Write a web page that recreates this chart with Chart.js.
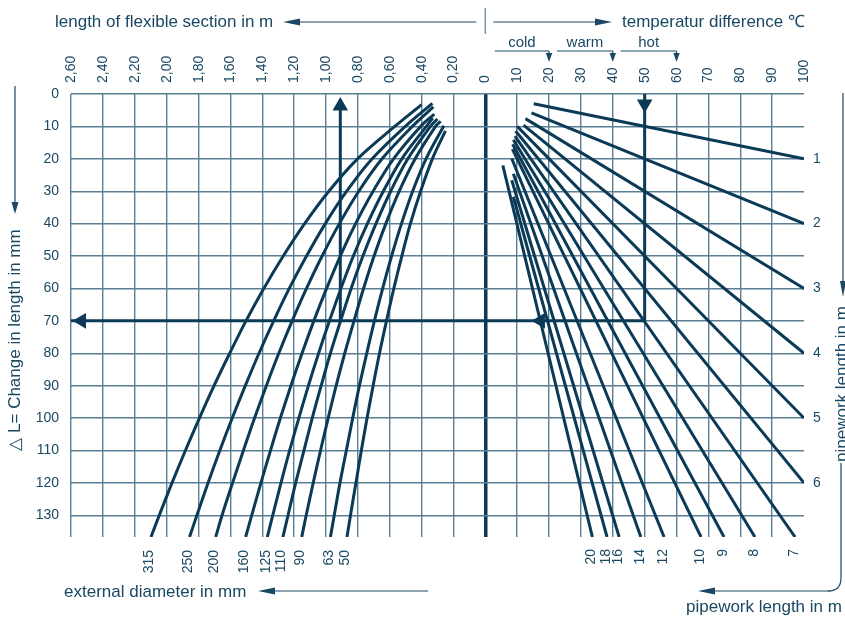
<!DOCTYPE html>
<html>
<head>
<meta charset="utf-8">
<script src="https://cdn.jsdelivr.net/npm/chart.js@4.4.1/dist/chart.umd.min.js"></script>
<style>
  html, body { margin: 0; padding: 0; background: #ffffff; }
  canvas { display: block; }
</style>
</head>
<body>
<canvas id="nomogram" width="845" height="619"></canvas>
<script>
// ---- tick labels ----
const flexTickLabels = ["2,60", "2,40", "2,20", "2,00", "1,80", "1,60", "1,40", "1,20", "1,00", "0,80", "0,60", "0,40", "0,20", "0"];
const tempTickLabels = ["10", "20", "30", "40", "50", "60", "70", "80", "90", "100"];
const dLTicks = [0, 10, 20, 30, 40, 50, 60, 70, 80, 90, 100, 110, 120, 130];

// 0.20 m of flexible section takes one grid step (= 10 K)
const M_TO_AXIS = 50;

// ---- left part: flexible section length (m) per external diameter ----
const diameters = [315, 250, 200, 160, 125, 110, 90, 63, 50];
const dLRows = [10, 20, 30, 40, 50, 60, 70, 80, 90, 100, 110, 120, 130, 136.7];
const curveTopDL = [3.3, 2.9, 4.0, 6.2, 7.4, 7.7, 8.4, 9.8, 11.4];
const curveTopLen = [0.40, 0.332, 0.326, 0.32, 0.33, 0.30, 0.28, 0.26, 0.25];
const len315 = [0.568, 0.802, 0.982, 1.134, 1.268, 1.390, 1.502, 1.604, 1.702, 1.794, 1.882, 1.966, 2.046, 2.098];
const len250 = [0.502, 0.710, 0.870, 1.004, 1.122, 1.230, 1.328, 1.420, 1.506, 1.588, 1.666, 1.740, 1.810, 1.856];
const len200 = [0.458, 0.648, 0.794, 0.916, 1.024, 1.122, 1.212, 1.296, 1.374, 1.448, 1.518, 1.586, 1.652, 1.692];
const len160 = [0.406, 0.576, 0.704, 0.814, 0.910, 0.996, 1.076, 1.150, 1.220, 1.286, 1.348, 1.408, 1.466, 1.504];
const len125 = [0.370, 0.524, 0.640, 0.740, 0.828, 0.906, 0.978, 1.046, 1.110, 1.170, 1.228, 1.282, 1.334, 1.368];
const len110 = [0.344, 0.486, 0.594, 0.686, 0.768, 0.842, 0.908, 0.972, 1.030, 1.086, 1.138, 1.190, 1.238, 1.270];
const len90 = [0.312, 0.440, 0.540, 0.624, 0.698, 0.764, 0.824, 0.882, 0.936, 0.986, 1.034, 1.080, 1.124, 1.152];
const len63 = [null, 0.372, 0.456, 0.526, 0.588, 0.644, 0.696, 0.744, 0.790, 0.832, 0.872, 0.912, 0.948, 0.972];
const len50 = [null, 0.332, 0.406, 0.470, 0.524, 0.574, 0.620, 0.664, 0.704, 0.742, 0.778, 0.812, 0.846, 0.868];
const flexCurves = [len315, len250, len200, len160, len125, len110, len90, len63, len50];

// ---- right part: pipework length lines (temperature difference, change in length) ----
const pipeLengths = [1, 2, 3, 4, 5, 6, 7, 8, 9, 10, 12, 14, 16, 18, 20];
const pipeStartT = [15.2, 14.5, 12.6, 12.0, 10.0, 9.5, 9.3, 8.8, 8.6, 8.5, 8.3, 8.8, 8.3, 8.8, 5.5];
const pipeStartDL = [3.0, 5.8, 7.6, 9.6, 10.0, 11.4, 13.0, 14.1, 15.5, 17.0, 19.9, 24.6, 26.6, 31.7, 22.0];
const pipeEndT = [100, 100, 100, 100, 100, 100, 97.2, 84.6, 74.9, 67.7, 56.1, 48.8, 42.0, 38.2, 33.6];
const pipeEndDL = [20, 40, 60, 80, 100, 120, 136.7, 136.7, 136.7, 136.7, 136.7, 136.7, 136.7, 136.7, 136.7];

// ---- reading example ----
const exampleT = 50;
const exampleDL = 70;
const exampleLen = 0.91;

// ---- temperature classes ----
const zoneNames = ["cold", "warm", "hot"];
const zoneFrom = [3, 22.5, 42.5];
const zoneTo = [20, 40, 60];

const LINE = "#0b3a57";
const TEXT = "#1a4863";
const GRID = "#5a7e94";
const FONT = "'Liberation Sans', Arial, Helvetica, sans-serif";

const xTickLabels = flexTickLabels.concat(tempTickLabels);
const xTickValue = (lbl) => lbl.includes(",") ? -M_TO_AXIS * parseFloat(lbl.replace(",", ".")) : Number(lbl);

const datasets = [];

flexCurves.forEach((lens, i) => {
  const pts = [{ x: -M_TO_AXIS * curveTopLen[i], y: curveTopDL[i] }];
  lens.forEach((l, j) => {
    if (l !== null) pts.push({ x: -M_TO_AXIS * l, y: dLRows[j] });
  });
  datasets.push({
    label: "D " + diameters[i],
    data: pts,
    showLine: true,
    borderColor: LINE,
    borderWidth: 3,
    pointRadius: 0,
    tension: 0.35,
  });
});

pipeLengths.forEach((p, i) => {
  datasets.push({
    label: "L " + p,
    data: [
      { x: pipeStartT[i], y: pipeStartDL[i] },
      { x: pipeEndT[i], y: pipeEndDL[i] },
    ],
    showLine: true,
    borderColor: LINE,
    borderWidth: 3,
    pointRadius: 0,
  });
});

// example path: down from the temperature, left across, up to the flexible length
const exampleLines = [
  [{ x: exampleT, y: 0 }, { x: exampleT, y: exampleDL }],
  [{ x: exampleT, y: exampleDL }, { x: -130, y: exampleDL }],
  [{ x: -M_TO_AXIS * exampleLen, y: exampleDL }, { x: -M_TO_AXIS * exampleLen, y: 4 }],
];
exampleLines.forEach((seg) => {
  datasets.push({
    data: seg,
    showLine: true,
    borderColor: LINE,
    borderWidth: 3,
    pointRadius: 0,
  });
});

datasets.push({
  label: "arrows",
  data: [
    { x: -M_TO_AXIS * exampleLen, y: 3.7 },
    { x: exampleT, y: 3.1 },
    { x: -126.7, y: exampleDL },
    { x: 17.3, y: exampleDL },
  ],
  pointStyle: "triangle",
  pointRadius: 9,
  pointRotation: [0, 180, 270, 270],
  pointBackgroundColor: LINE,
  pointBorderWidth: 0,
  showLine: false,
});

function arrow(ctx, x1, y1, x2, y2, len, half) {
  const a = Math.atan2(y2 - y1, x2 - x1);
  const bx = x2 - Math.cos(a) * len;
  const by = y2 - Math.sin(a) * len;
  ctx.beginPath();
  ctx.moveTo(x1, y1);
  ctx.lineTo(bx, by);
  ctx.stroke();
  ctx.beginPath();
  ctx.moveTo(x2, y2);
  ctx.lineTo(bx + Math.sin(a) * half, by - Math.cos(a) * half);
  ctx.lineTo(bx - Math.sin(a) * half, by + Math.cos(a) * half);
  ctx.closePath();
  ctx.fill();
}

function rotatedText(ctx, txt, x, y, align, baseline) {
  ctx.save();
  ctx.translate(x, y);
  ctx.rotate(-Math.PI / 2);
  ctx.textAlign = align;
  ctx.textBaseline = baseline;
  ctx.fillText(txt, 0, 0);
  ctx.restore();
}

const decor = {
  id: "decor",
  afterDraw(chart) {
    const { ctx } = chart;
    const xs = chart.scales.x;
    const ys = chart.scales.y;
    const x0 = xs.getPixelForValue(0);
    ctx.save();
    ctx.fillStyle = TEXT;
    ctx.strokeStyle = TEXT;
    ctx.lineWidth = 1.2;

    // header
    ctx.font = "17px " + FONT;
    ctx.textAlign = "left";
    ctx.textBaseline = "alphabetic";
    ctx.fillText("length of flexible section in m", 55, 27);
    ctx.fillText("temperatur difference \u2103", 622, 27);
    arrow(ctx, x0 - 9, 22, 283, 22, 17, 3.5);
    arrow(ctx, x0 + 8, 22, 612, 22, 17, 3.5);
    ctx.save();
    ctx.strokeStyle = "#7a98aa";
    ctx.lineWidth = 1.5;
    ctx.beginPath();
    ctx.moveTo(x0, 8);
    ctx.lineTo(x0, 34);
    ctx.stroke();
    ctx.restore();

    // temperature classes
    ctx.font = "15px " + FONT;
    ctx.textAlign = "center";
    zoneNames.forEach((name, i) => {
      const a = xs.getPixelForValue(zoneFrom[i]);
      const b = xs.getPixelForValue(zoneTo[i]);
      ctx.fillText(name, (a + b) / 2, 47);
      ctx.beginPath();
      ctx.moveTo(a, 51);
      ctx.lineTo(b, 51);
      ctx.stroke();
      arrow(ctx, b, 51, b, 62, 9, 3.2);
    });

    // left axis title
    ctx.font = "17px " + FONT;
    rotatedText(ctx, "\u25B3 L= Change in length in mm", 20, 340, "center", "alphabetic");
    arrow(ctx, 15, 86, 15, 214, 12, 3.5);

    // right title
    rotatedText(ctx, "pipework length in m", 847, 384, "center", "alphabetic");
    arrow(ctx, 843, 93, 843, 297, 16, 3);
    ctx.beginPath();
    ctx.moveTo(841, 463);
    ctx.lineTo(841, 578);
    ctx.quadraticCurveTo(841, 591, 828, 591);
    ctx.stroke();
    arrow(ctx, 830, 591, 698, 591, 17, 3.5);
    ctx.textAlign = "left";
    ctx.fillText("pipework length in m", 686, 612);

    // bottom left title
    ctx.fillText("external diameter in mm", 64, 597);
    arrow(ctx, 428, 591, 258, 591, 17, 3.5);

    // curve labels
    ctx.font = "14px " + FONT;
    diameters.forEach((d, i) => {
      const lens = flexCurves[i];
      const px = xs.getPixelForValue(-M_TO_AXIS * lens[lens.length - 1]) - 1.5;
      rotatedText(ctx, String(d), px, 550, "right", "middle");
    });
    pipeLengths.forEach((p, i) => {
      if (pipeEndT[i] >= 100) {
        ctx.textAlign = "left";
        ctx.textBaseline = "middle";
        ctx.fillText(String(p), xs.right + 9, ys.getPixelForValue(pipeEndDL[i]));
      } else {
        rotatedText(ctx, String(p), xs.getPixelForValue(pipeEndT[i]) - 1, 549, "right", "middle");
      }
    });
    ctx.restore();
  },
};

new Chart(document.getElementById("nomogram"), {
  type: "scatter",
  data: { datasets },
  options: {
    responsive: false,
    animation: false,
    events: [],
    layout: { padding: { left: 0, right: 41, top: 0, bottom: 82 } },
    plugins: {
      legend: { display: false },
      tooltip: { enabled: false },
    },
    scales: {
      x: {
        type: "linear",
        position: "top",
        min: -130,
        max: 100,
        afterBuildTicks: (s) => {
          s.ticks = xTickLabels.map((l) => ({ value: xTickValue(l) }));
        },
        afterFit: (s) => {
          s.height = 94;
        },
        border: { display: false },
        grid: {
          drawTicks: false,
          color: (c) => (c.tick.value === 0 ? LINE : c.tick.value === 100 ? "rgba(0,0,0,0)" : GRID),
          lineWidth: (c) => (c.tick.value === 0 ? 3.5 : 1.4),
        },
        ticks: {
          autoSkip: false,
          minRotation: 90,
          maxRotation: 90,
          padding: 11,
          labelOffset: 17,
          color: TEXT,
          font: { family: FONT, size: 14 },
          callback: (v, i) => xTickLabels[i],
        },
      },
      y: {
        type: "linear",
        reverse: true,
        min: 0,
        max: 136.7,
        afterBuildTicks: (s) => {
          s.ticks = dLTicks.map((v) => ({ value: v }));
        },
        afterFit: (s) => {
          s.width = 71;
        },
        border: { display: false },
        grid: { drawTicks: false, color: GRID, lineWidth: 1.4 },
        ticks: {
          padding: 12,
          color: TEXT,
          font: { family: FONT, size: 14 },
          callback: (v, i) => String(dLTicks[i]),
        },
      },
    },
  },
  plugins: [decor],
});
</script>
</body>
</html>
